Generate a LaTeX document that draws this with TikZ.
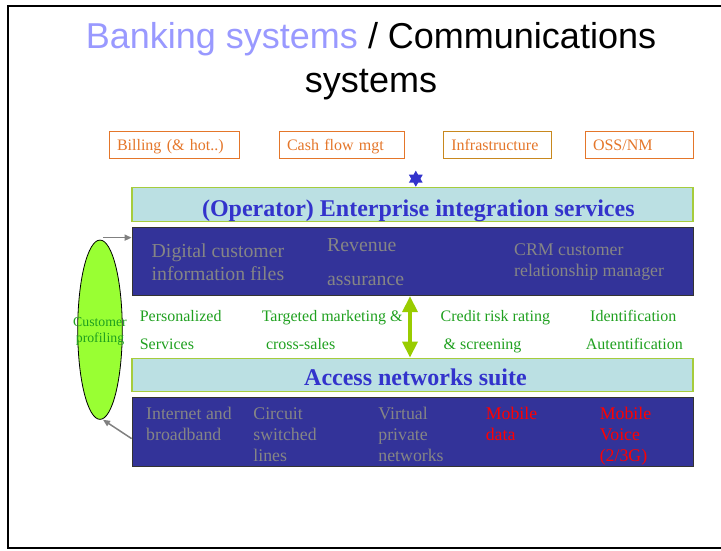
\documentclass[tikz,border=0pt]{standalone}
\usepackage{fontspec}
\setmainfont{Liberation Serif}
\newfontfamily\titlefont{Liberation Sans}
\usetikzlibrary{arrows.meta,shapes.geometric,calc}
\definecolor{darkbox}{HTML}{333399}
\definecolor{lightcyan}{HTML}{BBE0E3}
\definecolor{limeborder}{HTML}{A6CC3C}
\definecolor{bluetext}{HTML}{3333CC}
\definecolor{graytext}{HTML}{858585}
\definecolor{greentext}{HTML}{1FA01F}
\definecolor{orangec}{HTML}{E4762A}
\definecolor{infraborder}{HTML}{C8881E}
\definecolor{lilac}{HTML}{9999FF}
\definecolor{ellfill}{HTML}{99FF33}
\definecolor{arrowgreen}{HTML}{99CC00}
\definecolor{arrowgray}{HTML}{808080}
\begin{document}
\begin{tikzpicture}[x=1pt,y=-1pt,
  orangebox/.style={draw=orangec, line width=1pt, text=orangec, minimum height=27pt,
    inner ysep=0pt, inner xsep=8pt, align=left, text height=11pt, text depth=0pt,
    font=\fontsize{16}{19}\selectfont},
  bandbox/.style={draw=limeborder, fill=lightcyan, line width=1.2pt, minimum width=561pt,
    minimum height=33.4pt, inner sep=0pt},
  bandlabel/.style={text=bluetext, inner sep=0pt, anchor=base, font=\bfseries\fontsize{24}{28}\selectfont},
  darkpanel/.style={draw=black!80, fill=darkbox, line width=0.8pt, minimum width=561pt,
    minimum height=68.7pt, inner sep=0pt},
  graylabel/.style={text=graytext, inner sep=0pt, anchor=base west},
  biggray/.style={graylabel, font=\fontsize{19.8}{23}\selectfont},
  midgray/.style={graylabel, font=\fontsize{17.8}{21}\selectfont},
  greenlabel/.style={text=greentext, inner sep=0pt, anchor=base west, font=\fontsize{16}{19}\selectfont},
  redlabel/.style={text=red, inner sep=0pt, anchor=base west, font=\fontsize{17.8}{21}\selectfont},
  titletext/.style={inner sep=0pt, anchor=base, font=\titlefont\fontsize{36}{44}\selectfont},
  grayarrow/.style={draw=arrowgray, line width=1.5pt, -{Triangle[width=6pt,length=7pt]}},
  greenarrow/.style={draw=arrowgreen, line width=4.7pt,
    {Triangle[width=14.7pt,length=16pt]}-{Triangle[width=14.7pt,length=16pt]}},
]
\useasboundingbox (0,0) rectangle (721,550);
\draw[line width=1.6pt] (721,6) -- (8,6) -- (8,548) -- (721,548);

% title
\node[titletext] (title1) at (371,48) {\textcolor{lilac}{Banking systems} / Communications};
\node[titletext] (title2) at (371,92) {systems};

% top orange boxes
\node[orangebox, text width=114pt] (billing) at (174,144.5) {Billing (\& hot..)};
\node[orangebox, text width=109pt] (cashflow) at (341.5,144.5) {Cash flow mgt};
\node[orangebox, text width=92pt, draw=infraborder] (infra) at (497.3,144.5) {Infrastructure};
\node[orangebox, text width=92pt] (oss) at (639,144.5) {OSS/NM};

% star
\node[star, star points=6, star point ratio=1.73, fill=bluetext, minimum size=16pt,
  inner sep=0pt] (star) at (415.8,178.7) {};

% enterprise band
\node[bandbox] (eis) at (412.5,204.4) {};
\node[bandlabel] (eislabel) at (418.3,216.5) {(Operator) Enterprise integration services};

% dark panel 1
\node[darkpanel] (dbox1) at (412.5,261.3) {};
\node[biggray] (digital1) at (151.5,257) {Digital customer};
\node[biggray] (digital2) at (151.5,280) {information files};
\node[biggray] (revenue1) at (327,251.5) {Revenue};
\node[biggray] (revenue2) at (327,285.5) {assurance};
\node[midgray] (crm1) at (514,255.5) {CRM customer};
\node[midgray] (crm2) at (514,276.5) {relationship manager};

% green labels
\node[greenlabel] (pers1) at (139.6,321) {Personalized};
\node[greenlabel] (pers2) at (139.6,349.5) {Services};
\node[greenlabel] (targ1) at (261.6,321) {Targeted marketing \&};
\node[greenlabel] (targ2) at (265.8,349.5) {cross-sales};
\node[greenlabel] (cred1) at (440.5,321) {Credit risk rating};
\node[greenlabel] (cred2) at (443.5,349.5) {\& screening};
\node[greenlabel] (ident1) at (590,321) {Identification};
\node[greenlabel] (ident2) at (585.7,349.5) {Autentification};

% access band
\node[bandbox] (ans) at (412.5,375) {};
\node[bandlabel] (anslabel) at (415.5,385.5) {Access networks suite};

% dark panel 2
\node[darkpanel] (dbox2) at (412.5,431.6) {};
\node[midgray] (inet1) at (146,419) {Internet and};
\node[midgray] (inet2) at (146,440.5) {broadband};
\node[midgray] (circ1) at (253.2,419) {Circuit};
\node[midgray] (circ2) at (253.2,440.5) {switched};
\node[midgray] (circ3) at (253.2,461) {lines};
\node[midgray] (vpn1) at (378.2,419) {Virtual};
\node[midgray] (vpn2) at (378.2,440.5) {private};
\node[midgray] (vpn3) at (378.2,461) {networks};
\node[redlabel] (mdata1) at (485.6,419) {Mobile};
\node[redlabel] (mdata2) at (485.6,440.5) {data};
\node[redlabel] (mvoice1) at (599.6,419) {Mobile};
\node[redlabel] (mvoice2) at (599.6,440.5) {Voice};
\node[redlabel] (mvoice3) at (599.6,461) {(2/3G)};

% customer profiling ellipse
\node[ellipse, draw=black, fill=ellfill, line width=0.8pt, minimum width=44.6pt,
  minimum height=179.3pt, inner sep=0pt] (profile) at (100,329.7) {};
\node[text=greentext, inner sep=0pt, anchor=base, font=\fontsize{13.8}{16}\selectfont]
  (prof1) at (100,326) {Customer};
\node[text=greentext, inner sep=0pt, anchor=base, font=\fontsize{13.8}{16}\selectfont]
  (prof2) at (100,342) {profiling};

% connectors
\coordinate (topstart) at ($(profile.north)+(3,-2)$);
\draw[grayarrow] (topstart) -- (topstart -| dbox1.west);
\coordinate (botstart) at ($(dbox2.west)+(0,7)$);
\coordinate (ellbottom) at ($(profile.south)+(3,0)$);
\draw[grayarrow] (botstart) -- (ellbottom);
\coordinate (ax) at (410,300);
\draw[greenarrow] (ax |- dbox1.south) -- (ax |- ans.north);
\end{tikzpicture}
\end{document}
